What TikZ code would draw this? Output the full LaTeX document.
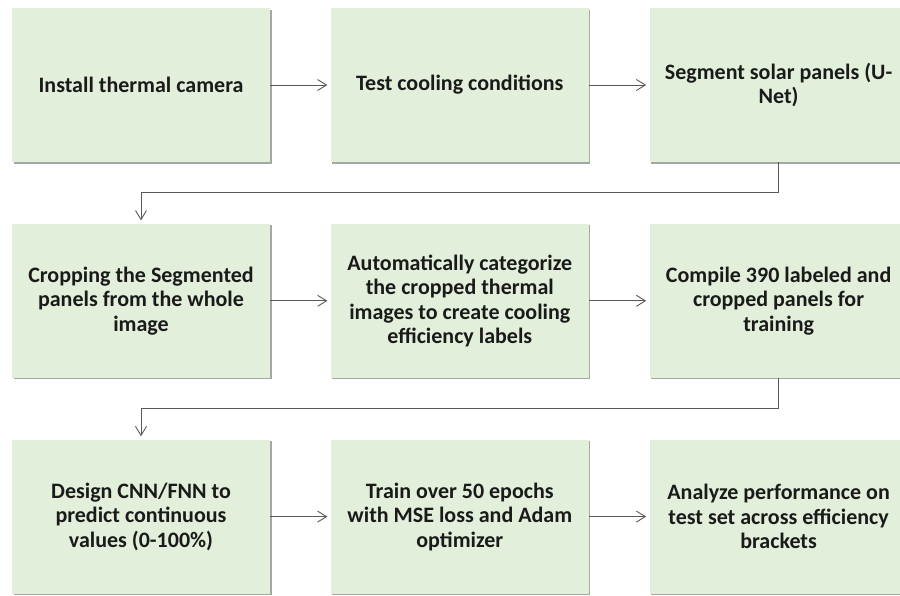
\documentclass[tikz,border=0pt]{standalone}
\usepackage{fontspec}
\setmainfont{Carlito}
\usetikzlibrary{arrows.meta,positioning,shadows}
\definecolor{boxfill}{HTML}{E2EFDA}
\definecolor{ink}{HTML}{1A1A1A}
\definecolor{wire}{HTML}{595959}
\tikzset{>={Straight Barb[length=4.5pt,width=5.5pt]},
  every node/.style={font=\bfseries\fontsize{11pt}{12.25pt}\selectfont,text=ink},
  stepbox/.style={rectangle,fill=boxfill,minimum width=129pt,minimum height=77pt,
    align=center,inner sep=0pt,
    drop shadow={shadow xshift=.8pt,shadow yshift=-.8pt,opacity=.35,fill=black}},
  flow/.style={->,draw=wire,line width=.45pt,shorten >=1.5pt}}

\begin{document}
\begin{tikzpicture}[node distance=30.5pt and 30pt]
% page size, the last column runs off the right edge
\clip (0,0) rectangle (450pt,-297.5pt);
% first row
\node[stepbox] (inst) at (70.5pt,-42.5pt) {Install thermal camera};
\node[stepbox,right=of inst] (test) {Test cooling conditions};
\node[stepbox,right=of test] (seg) {Segment solar panels (U-\\Net)};
% second row
\node[stepbox,below=of inst] (crop) {Cropping the Segmented\\panels from the whole\\image};
\node[stepbox,right=of crop] (categ) {Automatically categorize\\the cropped thermal\\images to create cooling\\efficiency labels};
\node[stepbox,right=of categ] (compile) {Compile 390 labeled and\\cropped panels for\\training};
% third row
\node[stepbox,below=of crop] (design) {Design CNN/FNN to\\predict continuous\\values (0-100\%)};
\node[stepbox,right=of design] (train) {Train over 50 epochs\\with MSE loss and Adam\\optimizer};
\node[stepbox,right=of train] (analyze) {Analyze performance on\\test set across efficiency\\brackets};
\draw[flow] (inst) -- (test);
\draw[flow] (test) -- (seg);
\draw[flow] (seg.south) -- ++(0,-15.25pt) -| (crop.north);
\draw[flow] (crop) -- (categ);
\draw[flow] (categ) -- (compile);
\draw[flow] (compile.south) -- ++(0,-15.25pt) -| (design.north);
\draw[flow] (design) -- (train);
\draw[flow] (train) -- (analyze);
\end{tikzpicture}
\end{document}
